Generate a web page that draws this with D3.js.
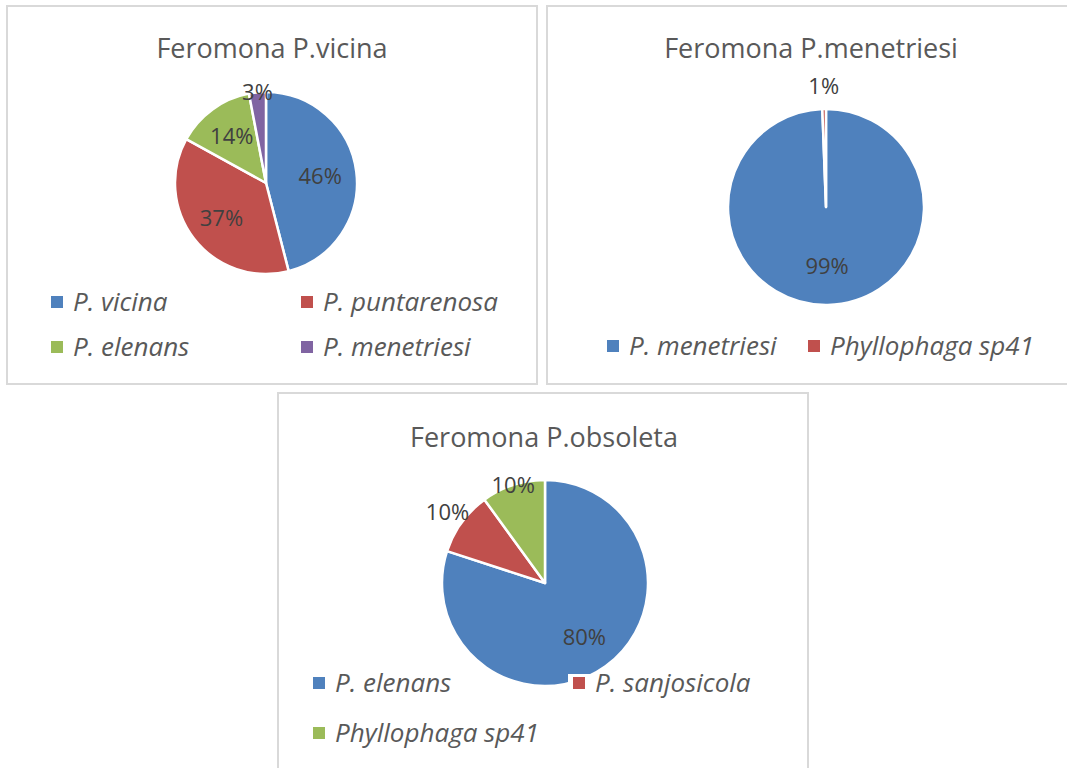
<!DOCTYPE html>
<html>
<head>
<meta charset="utf-8">
<script src="https://cdn.jsdelivr.net/npm/d3@7"></script>
<style>
  body { margin: 0; background: #fff; }
  svg { display: block; font-family: "Open Sans", sans-serif; }
</style>
</head>
<body>
<svg id="chart" width="1067" height="768"></svg>
<script>
// chart data
const vicinaNames = ["P. vicina", "P. puntarenosa", "P. elenans", "P. menetriesi"];
const vicinaValues = [46, 37, 14, 3];

const menetriesiNames = ["P. menetriesi", "Phyllophaga sp41"];
const menetriesiValues = [99.4, 0.6];

const obsoletaNames = ["P. elenans", "P. sanjosicola", "Phyllophaga sp41"];
const obsoletaValues = [80, 10, 10];

const palette = ["#4F81BD", "#C0504D", "#9BBB59", "#8064A2"];

// layout of each panel (positions only, no data)
const panels = [
    {
        title: "Feromona P.vicina", names: vicinaNames, values: vicinaValues,
        box: [7, 6, 530, 378], titleAt: [272, 58],
        center: [266, 183], radius: 91,
        labelR: [0.6, 0.62, 0.64, 1.0],
        legend: [[51, 302], [301, 302], [51, 347], [301, 347]]
    },
    {
        title: "Feromona P.menetriesi", names: menetriesiNames, values: menetriesiValues,
        box: [547, 6, 530, 378], titleAt: [811, 58],
        center: [826, 207], radius: 98,
        labelR: [0.6, 1.23],
        legend: [[607, 346], [808, 346]]
    },
    {
        title: "Feromona P.obsoleta", names: obsoletaNames, values: obsoletaValues,
        box: [278, 393, 530, 400], titleAt: [544, 447],
        center: [545, 583], radius: 103,
        labelR: [0.65, 1.17, 1.0],
        legend: [[313, 683], [573, 683], [313, 733]]
    }
];

const svg = d3.select("#chart");

const color = d3.scaleOrdinal().range(palette);

panels.forEach((p) => {
    const g = svg.append("g");

    // panel frame
    g.append("rect")
        .attr("x", p.box[0])
        .attr("y", p.box[1])
        .attr("width", p.box[2])
        .attr("height", p.box[3])
        .attr("fill", "#fff")
        .attr("stroke", "#d9d9d9")
        .attr("stroke-width", 2);

    g.append("text")
        .attr("x", p.titleAt[0])
        .attr("y", p.titleAt[1])
        .attr("text-anchor", "middle")
        .style("font-size", "27px")
        .style("fill", "#595959")
        .text(p.title);

    const data = p.names.map((n, i) => ({ name: n, value: p.values[i], idx: i }));

    const pie = d3.pie().sort(null).value((d) => d.value);
    const arcs = pie(data);
    const arc = d3.arc().innerRadius(0).outerRadius(p.radius);

    const pieG = g.append("g")
        .attr("transform", "translate(" + p.center[0] + "," + p.center[1] + ")");

    pieG.selectAll("path")
        .data(arcs)
        .enter()
        .append("path")
        .attr("d", arc)
        .attr("fill", (d) => color(d.data.idx))
        .attr("stroke", "#fff")
        .attr("stroke-width", 2.5)
        .attr("stroke-linejoin", "round");

    // percentage labels
    const total = d3.sum(p.values);
    pieG.selectAll("text")
        .data(arcs)
        .enter()
        .append("text")
        .attr("transform", (d) => {
            const r = p.radius * p.labelR[d.index];
            const c = d3.arc().innerRadius(r).outerRadius(r).centroid(d);
            return "translate(" + c[0] + "," + c[1] + ")";
        })
        .attr("text-anchor", "middle")
        .attr("dy", "0.36em")
        .style("font-size", "22px")
        .style("fill", "#404040")
        .text((d) => Math.round(d.data.value / total * 100) + "%");

    // legend
    const items = g.selectAll(".legend-item")
        .data(data)
        .enter()
        .append("g")
        .attr("class", "legend-item")
        .attr("transform", (d) => "translate(" + p.legend[d.idx][0] + "," + p.legend[d.idx][1] + ")");

    // small white backing behind each entry
    items.append("rect")
        .attr("x", -5)
        .attr("y", -9)
        .attr("width", 24)
        .attr("height", 20)
        .attr("fill", "#fff");

    items.append("rect")
        .attr("x", 0)
        .attr("y", -6)
        .attr("width", 12)
        .attr("height", 12)
        .attr("fill", (d) => color(d.idx));

    items.append("text")
        .attr("x", 22)
        .attr("dy", "0.36em")
        .style("font-size", "26px")
        .style("font-style", "italic")
        .style("fill", "#595959")
        .text((d) => d.name);
});
</script>
</body>
</html>
